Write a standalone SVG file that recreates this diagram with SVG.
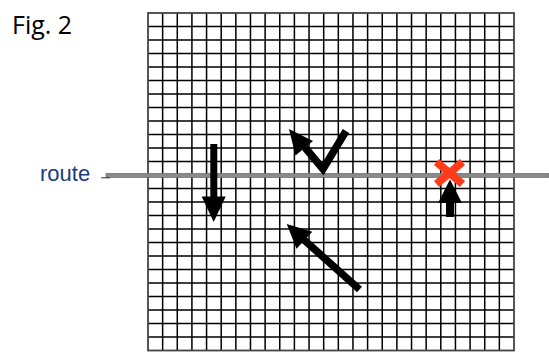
<svg xmlns="http://www.w3.org/2000/svg" width="549" height="352" viewBox="0 0 549 352">
<style>
.grid{fill:none;stroke:#000;stroke-width:1.5}
.border{fill:none;stroke:#444;stroke-width:1.8}
.arrow{fill:#000}
.shaft{fill:none;stroke:#000;stroke-width:7.5;stroke-linecap:butt;stroke-linejoin:miter;stroke-miterlimit:10}
.cross{fill:none;stroke:#ff3b1a;stroke-width:8;stroke-linecap:butt}
.lbl{font-family:"Liberation Sans",Arial,sans-serif}
.fig{font-family:"Open Sans","Liberation Sans",sans-serif}
</style>
<rect width="549" height="352" fill="#fff"/>
<text class="fig" x="12" y="33.5" font-size="25" fill="#000">Fig. 2</text>
<g id="grid">
<path class="grid" d="M162.64 13V350.5M177.28 13V350.5M191.92 13V350.5M206.56 13V350.5M221.2 13V350.5M235.84 13V350.5M250.48 13V350.5M265.12 13V350.5M279.76 13V350.5M294.4 13V350.5M309.04 13V350.5M323.68 13V350.5M338.32 13V350.5M352.96 13V350.5M367.6 13V350.5M382.24 13V350.5M396.88 13V350.5M411.52 13V350.5M426.16 13V350.5M440.8 13V350.5M455.44 13V350.5M470.08 13V350.5M484.72 13V350.5M499.36 13V350.5M148 26.5H514M148 40H514M148 53.5H514M148 67H514M148 80.5H514M148 94H514M148 107.5H514M148 121H514M148 134.5H514M148 148H514M148 161.5H514M148 175H514M148 188.5H514M148 202H514M148 215.5H514M148 229H514M148 242.5H514M148 256H514M148 269.5H514M148 283H514M148 296.5H514M148 310H514M148 323.5H514M148 337H514"/>
<rect class="border" x="148" y="13" width="366" height="337.5"/>
</g>
<g id="route">
<rect x="106" y="173.3" width="443" height="4.3" fill="#8a8a8a" stroke="#666" stroke-width="0.6"/>
<line x1="101" y1="177.8" x2="110" y2="177.8" stroke="#333" stroke-width="1"/>
<text class="lbl" x="40" y="181" font-size="22" fill="#1c3a82">route</text>
</g>
<g id="arrows">
<g id="arrow-down">
<rect class="arrow" x="210.3" y="144" width="7" height="54"/>
<polygon class="arrow" points="201.7,196.5 225.7,196.5 213.7,222"/>
</g>
<g id="arrow-v">
<path class="shaft" d="M346 131L323 169L305 147.5"/>
<polygon class="arrow" points="289,129 313,141 295.5,155.5"/>
</g>
<g id="arrow-diag">
<line class="shaft" x1="303" y1="239" x2="359.5" y2="289.5" stroke-width="8.5"/>
<polygon class="arrow" points="286.7,224 312.3,231.8 296.5,248.7"/>
</g>
<g id="arrow-up">
<rect class="arrow" x="446" y="201" width="8" height="16"/>
<polygon class="arrow" points="450,179.5 462,203 438,203"/>
</g>
</g>
<g id="cross">
<path class="cross" d="M436.5 162L462.5 184M462.5 162L436.5 184"/>
</g>
</svg>
